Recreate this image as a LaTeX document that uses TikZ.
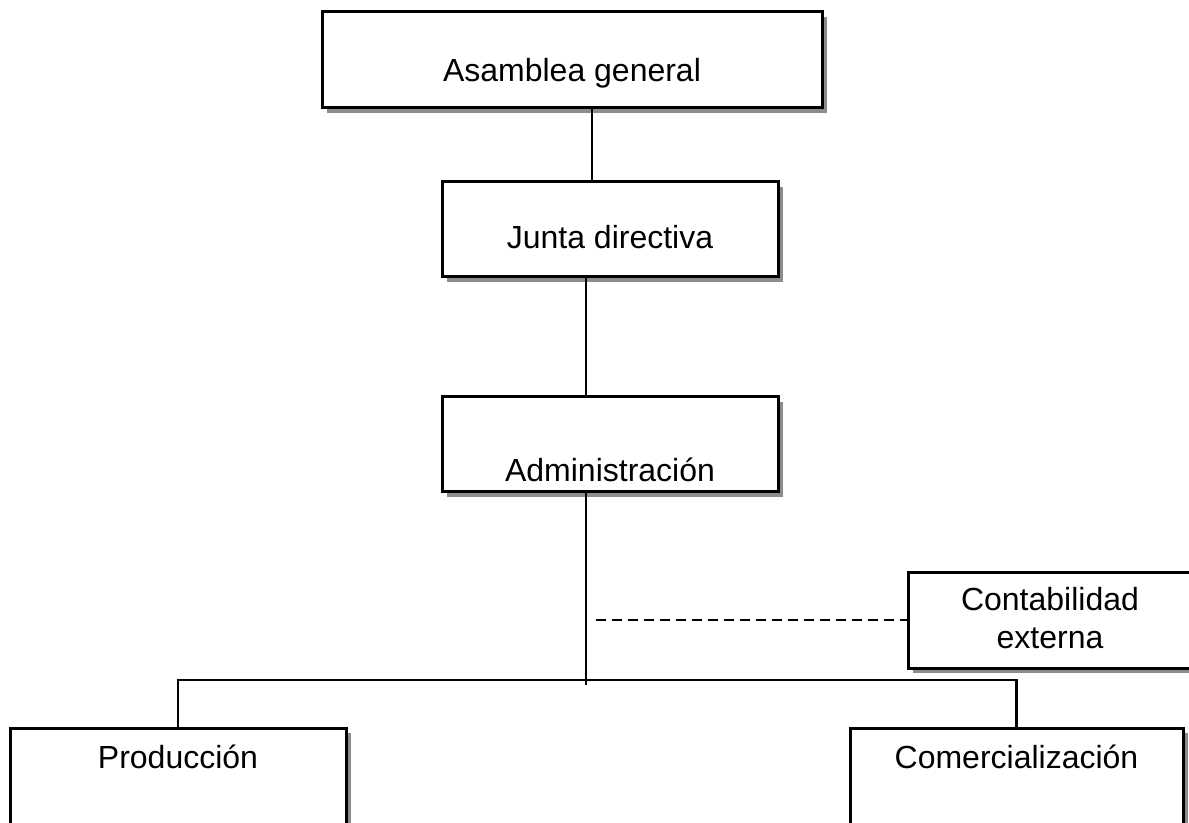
\documentclass[tikz,border=0pt]{standalone}
\usepackage{fontspec}
\setmainfont{Liberation Sans}
\usetikzlibrary{shadows}

\tikzset{
    caja/.style={draw, line width=1.5pt, fill=white, inner sep=0pt,
        drop shadow={shadow xshift=2.5pt, shadow yshift=-2.5pt, fill=gray!90, opacity=1}},
    rotulo/.style={anchor=base, inner sep=0pt, font=\fontsize{16pt}{19pt}\selectfont, align=center},
    linea/.style={line width=1.1pt}
}

\begin{document}
\begin{tikzpicture}[x=0.5pt, y=-0.5pt]
    \useasboundingbox (0,0) rectangle (1189,823);
    \clip (0,0) rectangle (1189,823);

    \node [caja, minimum width=250pt, minimum height=48pt] (asamblea) at (572,60) {};
    \node [caja, minimum width=168pt, minimum height=47.5pt] (junta) at (610,229.5) {};
    \node [caja, minimum width=168pt, minimum height=47.5pt] (admin) at (610,444.5) {};
    \node [caja, minimum width=142pt, minimum height=48pt] (contab) at (1050,620) {};
    \node [caja, minimum width=168pt, minimum height=60pt] (prod) at (178,788) {};
    \node [caja, minimum width=166.5pt, minimum height=60pt] (comer) at (1016.5,788) {};

    \node [rotulo] (t-asamblea) at (572,82) {Asamblea general};
    \node [rotulo] (t-junta) at (610,249) {Junta directiva};
    \node [rotulo] (t-admin) at (610,482) {Administración};
    \node [rotulo] (t-contab) at (1050,648) {Contabilidad\\externa};
    \node [rotulo] (t-prod) at (178,768) {Producción};
    \node [rotulo] (t-comer) at (1016.5,768) {Comercialización};

    \coordinate (fin) at (586,685);
    \coordinate (cruce) at (586,680);
    \coordinate (punto) at (596,620);

    \draw [linea] ([xshift=10pt]asamblea.south) -- ([xshift=10pt]asamblea.south |- junta.north);
    \draw [linea] ([xshift=-12pt]junta.south) -- ([xshift=-12pt]junta.south |- admin.north);
    \draw [linea] ([xshift=-12pt]admin.south) -- (fin);
    \draw [linea, dash pattern=on 5pt off 3pt] (punto) -- (contab.west);
    \draw [linea] (prod.north) |- (cruce) -| (comer.north);
\end{tikzpicture}
\end{document}
